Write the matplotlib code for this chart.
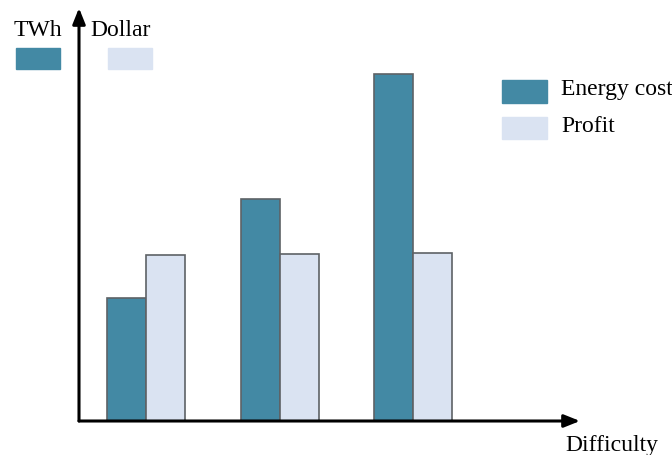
import matplotlib
matplotlib.use("Agg")
import matplotlib.pyplot as plt
from matplotlib.patches import Rectangle
import numpy as np

categories = ["Low", "Medium", "High"]
energy_cost = [123, 222, 347]
profit = [166, 167, 168]
series_names = ["Energy cost", "Profit"]
colors = ["#4389a4", "#dae3f2"]

W, H = 672, 455
plt.rcParams['font.family'] = ['Liberation Serif', 'DejaVu Serif']
fig = plt.figure(figsize=(W / 100, H / 100), dpi=100)

def fx(px):
    return px / W

def fy(py):
    return 1 - py / H

ax_left, ax_right, ax_bottom, ax_top = 79, 580, 421, 8
ax = fig.add_axes([fx(ax_left), fy(ax_bottom), fx(ax_right - ax_left), (ax_bottom - ax_top) / H])
ax.set_xlim(-0.502, 3.25)
ax.set_ylim(0, 413)
x = np.arange(len(categories))
bw = 0.292
ax.bar(x - bw / 2, energy_cost, bw, color=colors[0], edgecolor="#5e6266", linewidth=1.2, zorder=2)
ax.bar(x + bw / 2, profit, bw, color=colors[1], edgecolor="#5e6266", linewidth=1.2, zorder=2)
for s in ax.spines.values():
    s.set_visible(False)
ax.set_xticks([])
ax.set_yticks([])
ax.patch.set_alpha(0)

arrow = dict(arrowstyle="-|>,head_length=0.95,head_width=0.38", color="black", lw=2.2, shrinkA=0, shrinkB=0)
ax.annotate("", xy=(1.0, 0), xytext=(0, 0), xycoords="axes fraction", arrowprops=arrow, zorder=5)
ax.annotate("", xy=(0, 1.0), xytext=(0, 0), xycoords="axes fraction", arrowprops=arrow, zorder=5)

fs = 17
fig.text(fx(14), fy(31), "TWh", fontsize=fs, ha="left", va="center")
fig.text(fx(90), fy(31), "Dollar", fontsize=fs, ha="left", va="center")
fig.patches.append(Rectangle((fx(16), fy(69)), fx(44), (69 - 48) / H, transform=fig.transFigure, color=colors[0]))
fig.patches.append(Rectangle((fx(108), fy(69)), fx(44), (69 - 48) / H, transform=fig.transFigure, color=colors[1]))

fig.patches.append(Rectangle((fx(502), fy(103)), fx(45), (103 - 80) / H, transform=fig.transFigure, color=colors[0]))
fig.patches.append(Rectangle((fx(502), fy(139)), fx(45), (139 - 117) / H, transform=fig.transFigure, color=colors[1]))
fig.text(fx(561), fy(89), series_names[0], fontsize=fs, ha="left", va="center")
fig.text(fx(561), fy(127), series_names[1], fontsize=fs, ha="left", va="center")

fig.text(fx(565), fy(446), "Difficulty", fontsize=fs, ha="left", va="center")

fig.savefig("out.png", dpi=100)
